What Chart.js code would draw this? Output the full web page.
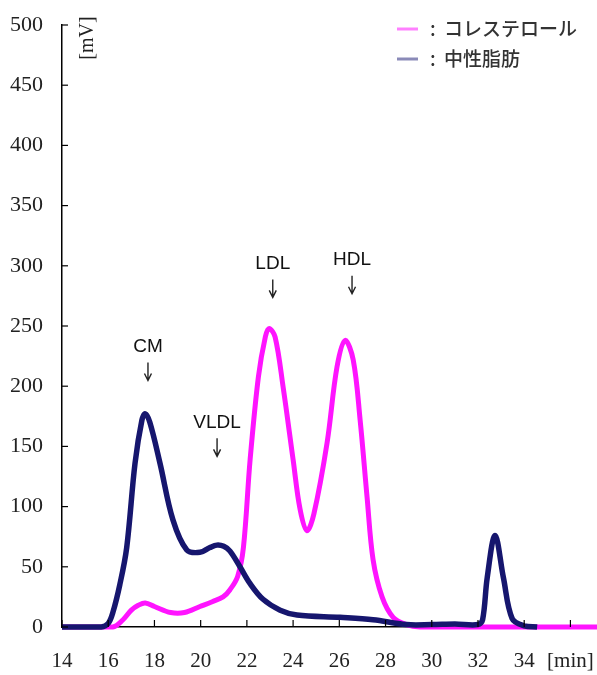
<!DOCTYPE html>
<html>
<head>
<meta charset="utf-8">
<script src="https://cdn.jsdelivr.net/npm/chart.js@4.4.0/dist/chart.umd.min.js"></script>
<style>
  html, body { margin: 0; padding: 0; background: #fff; }
  #wrap { width: 597px; height: 675px; }
</style>
</head>
<body>
<div id="wrap"><canvas id="myChart" width="597" height="675"></canvas></div>
<script>
// retention time [min] and signal [mV]
var cholTime   = [14, 16.2, 16.64, 17.0, 17.3, 17.6, 18.0, 18.7, 19.3, 19.97, 20.5, 20.97, 21.27, 21.6, 21.85, 22.14, 22.5, 22.8, 22.96, 23.22, 23.57, 24.0, 24.3, 24.6, 24.9, 25.47, 25.9, 26.25, 26.6, 26.9, 27.2, 27.46, 27.85, 28.33, 28.9, 29.5, 32, 34, 36, 37.15];
var cholValues = [0, 0, 6, 14, 18, 20, 17, 12, 12, 17, 21, 25, 31, 42, 66, 139, 208, 241, 248, 241, 199, 139, 98, 80, 94, 153, 216, 238, 222, 172, 108, 56, 25, 8, 2, 0, 0, 0, 0, 0];

var tgTime   = [14, 15.7, 16.0, 16.2, 16.5, 16.8, 17.16, 17.46, 17.6, 17.8, 18.24, 18.8, 19.4, 19.97, 20.4, 20.7, 21.0, 21.27, 21.7, 22.14, 22.7, 23.44, 24.17, 26.03, 27.46, 28.9, 30.0, 31.0, 32.0, 32.2, 32.4, 32.74, 33.1, 33.48, 34.0, 34.56];
var tgValues = [0, 0, 3, 12, 35, 66, 136, 172, 177, 170, 136, 89, 64, 62, 66, 68, 67, 63, 50, 36, 23, 14, 10, 8, 6, 2, 2, 2.5, 2, 6, 41, 76, 41, 7, 1, 0];

var yTicks = [0, 50, 100, 150, 200, 250, 300, 350, 400, 450, 500];
var xTicks = [14, 16, 18, 20, 22, 24, 26, 28, 30, 32, 34, 36];

var legendLabels = ['コレステロール', '中性脂肪'];
var peakNames = ['CM', 'VLDL', 'LDL', 'HDL'];
var peakTimes = [17.72, 20.71, 23.12, 26.55];
var peakLevels = [233, 170, 302, 305];

function toPoints(xs, ys) {
  return xs.map(function (x, i) { return { x: x, y: ys[i] }; });
}

var decorations = {
  id: 'decorations',
  afterDraw: function (chart) {
    var ctx = chart.ctx;
    var xs = chart.scales.x, ys = chart.scales.y;
    ctx.save();

    // inner tick marks on both axes
    ctx.strokeStyle = '#000';
    ctx.lineWidth = 1.2;
    xTicks.forEach(function (t) {
      var px = xs.getPixelForValue(t);
      ctx.beginPath();
      ctx.moveTo(px, ys.bottom);
      ctx.lineTo(px, ys.bottom - 7);
      ctx.stroke();
    });
    yTicks.forEach(function (t) {
      var py = ys.getPixelForValue(t);
      ctx.beginPath();
      ctx.moveTo(xs.left, py);
      ctx.lineTo(xs.left + 6, py);
      ctx.stroke();
    });

    // [mV] unit label
    ctx.save();
    ctx.translate(88, 38);
    ctx.rotate(-Math.PI / 2);
    ctx.fillStyle = '#222';
    ctx.font = '20px "Liberation Serif"';
    ctx.textAlign = 'center';
    ctx.textBaseline = 'middle';
    ctx.fillText('[mV]', 0, 0);
    ctx.restore();

    // legend
    var colors = ['#ff80ff', '#8a8ab8'];
    legendLabels.forEach(function (lab, i) {
      var y = 29 + i * 30;
      ctx.strokeStyle = colors[i];
      ctx.lineWidth = 3;
      ctx.beginPath();
      ctx.moveTo(397, y);
      ctx.lineTo(418, y);
      ctx.stroke();
      ctx.fillStyle = '#333';
      ctx.font = '500 19px "Noto Sans CJK JP"';
      ctx.textBaseline = 'middle';
      ctx.textAlign = 'left';
      ctx.fillText(':', 430, y);
      ctx.fillText(lab, 444, y);
    });

    // peak names with arrows
    peakNames.forEach(function (name, i) {
      var px = xs.getPixelForValue(peakTimes[i]);
      var py = ys.getPixelForValue(peakLevels[i]);
      ctx.fillStyle = '#111';
      ctx.font = '19px "Liberation Sans"';
      ctx.textAlign = 'center';
      ctx.textBaseline = 'middle';
      ctx.fillText(name, px, py);
      ctx.strokeStyle = '#222';
      ctx.lineWidth = 1.4;
      ctx.beginPath();
      ctx.moveTo(px, py + 16);
      ctx.lineTo(px, py + 34);
      ctx.moveTo(px - 3.5, py + 27);
      ctx.lineTo(px, py + 34);
      ctx.lineTo(px + 3.5, py + 27);
      ctx.stroke();
    });

    ctx.restore();
  }
};

var canvas = document.getElementById('myChart');
new Chart(canvas, {
  type: 'line',
  data: {
    datasets: [{
      label: legendLabels[1],
      data: toPoints(tgTime, tgValues),
      borderColor: '#16166e',
      borderWidth: 5.5,
      pointRadius: 0,
      tension: 0.35,
      fill: false
    }, {
      label: legendLabels[0],
      data: toPoints(cholTime, cholValues),
      borderColor: '#ff14ff',
      borderWidth: 5,
      pointRadius: 0,
      tension: 0.35,
      fill: false
    }]
  },
  options: {
    responsive: false,
    animation: false,
    clip: false,
    layout: { padding: { left: 0, top: 25, right: 0, bottom: 0 } },
    plugins: {
      legend: { display: false },
      tooltip: { enabled: false }
    },
    scales: {
      x: {
        type: 'linear',
        min: 14,
        max: 37.15,
        afterFit: function (scale) {
          scale.height = 48;
          scale.paddingLeft = 0;
          scale.paddingRight = 0;
        },
        afterBuildTicks: function (scale) {
          scale.ticks = xTicks.map(function (v) { return { value: v }; });
        },
        ticks: {
          padding: 22,
          maxRotation: 0,
          autoSkip: false,
          color: '#222',
          font: { family: 'Liberation Serif', size: 21 },
          callback: function (v) { return v === 36 ? '[min]' : v; }
        },
        grid: { drawOnChartArea: false, drawTicks: false },
        border: { display: true, color: '#000', width: 1.5 }
      },
      y: {
        min: 0,
        max: 500,
        afterFit: function (scale) {
          scale.width = 62;
          scale.paddingTop = 0;
          scale.paddingBottom = 0;
        },
        afterBuildTicks: function (scale) {
          scale.ticks = yTicks.map(function (v) { return { value: v }; });
        },
        ticks: {
          padding: 19,
          color: '#222',
          font: { family: 'Liberation Serif', size: 22 }
        },
        grid: { drawOnChartArea: false, drawTicks: false },
        border: { display: true, color: '#000', width: 1.5 }
      }
    }
  },
  plugins: [decorations]
});
</script>
</body>
</html>
